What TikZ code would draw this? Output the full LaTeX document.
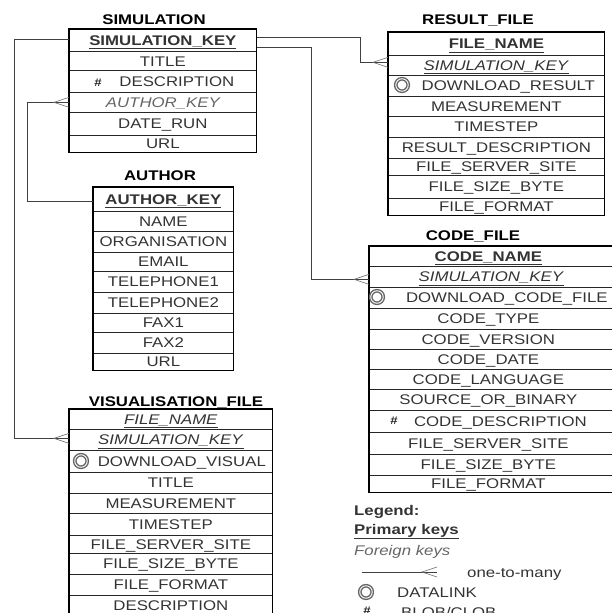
\documentclass[tikz,border=0pt]{standalone}
\usepackage{fontspec}
\setmainfont[FakeStretch=1.2]{Liberation Sans}
\tikzset{
  x=1bp,y=-1bp,
  rowbox/.style={draw=black!85,line width=0.7bp,inner sep=0pt,anchor=north west,text height=10bp,text depth=0bp,align=center,text=black!80},
  titlenode/.style={inner sep=0pt,text height=10bp,text depth=0bp,font=\fontsize{14bp}{16bp}\selectfont\bfseries},
  outerbox/.style={draw=black,line width=1.5bp},
  linkline/.style={draw=black!75,line width=0.7bp},
  crowline/.style={draw=black!60,line width=0.6bp},
  ringmark/.style={circle,draw=black!60,line width=1.4bp,minimum size=12.5bp,inner sep=0pt,double=white,double distance=0.9bp},
  legendtext/.style={inner sep=0pt,anchor=base west,text=black!80,font=\fontsize{14bp}{16bp}\selectfont},
  hashmark/.style={inner sep=0pt,font=\fontsize{11bp}{12bp}\selectfont\bfseries,text=black!85},
}
% name, x0, x1, y0, y1, text-shift (double of the offset), text
\newcommand{\tblrow}[7]{%
  \pgfmathsetmacro{\rw}{#3-#2}\pgfmathsetmacro{\rh}{#5-#4}%
  \node[rowbox,minimum width=\rw bp,minimum height=\rh bp,font=\fontsize{14bp}{16bp}\selectfont] (#1) at (#2,#4) {\hspace*{#6bp}#7};}
\newcommand{\pk}[1]{\underline{\textbf{#1}}}
\newcommand{\fku}[1]{\underline{\textit{#1}}}
\newcommand{\crowat}[1]{%
  \draw[crowline] (#1) ++(0,-5) -- ++(-15,5) -- ++(15,5);}
\begin{document}
\begin{tikzpicture}
\useasboundingbox (0,0) rectangle (612,613);
\clip (0,0) rectangle (612,613);
\coordinate (busA) at (14,0);
\coordinate (busB) at (27,0);
\coordinate (busC) at (360,0);
\coordinate (busD) at (311,0);
% SIMULATION
\node[titlenode] (tSim) at (154,20) {SIMULATION};
\tblrow{s1}{69}{256}{29}{51}{0}{\pk{SIMULATION\_KEY}}
\tblrow{s2}{69}{256}{51}{70.5}{0}{TITLE}
\tblrow{s3}{69}{256}{70.5}{92}{28}{DESCRIPTION}
\tblrow{s4}{69}{256}{92}{112}{0}{\textit{\textcolor{black!60}{AUTHOR\_KEY}}}
\tblrow{s5}{69}{256}{112}{135}{0}{DATE\_RUN}
\tblrow{s6}{69}{256}{135}{152}{0}{URL}
\draw[outerbox] (s1.north west) rectangle (s6.south east);
\node[hashmark] (hs) at (98,83) {\#};
% AUTHOR
\node[titlenode] (tAut) at (160,176) {AUTHOR};
\tblrow{a1}{93}{233}{187}{211}{0}{\pk{AUTHOR\_KEY}}
\tblrow{a2}{93}{233}{211}{231}{0}{NAME}
\tblrow{a3}{93}{233}{231}{252}{0}{ORGANISATION}
\tblrow{a4}{93}{233}{252}{271}{0}{EMAIL}
\tblrow{a5}{93}{233}{271}{292}{0}{TELEPHONE1}
\tblrow{a6}{93}{233}{292}{313}{0}{TELEPHONE2}
\tblrow{a7}{93}{233}{313}{332}{0}{FAX1}
\tblrow{a8}{93}{233}{332}{353}{0}{FAX2}
\tblrow{a9}{93}{233}{353}{370}{0}{URL}
\draw[outerbox] (a1.north west) rectangle (a9.south east);
% VISUALISATION_FILE
\node[titlenode] (tVis) at (176,401) {VISUALISATION\_FILE};
\tblrow{v1}{69}{272}{409}{429}{0}{\fku{FILE\_NAME}}
\tblrow{v2}{69}{272}{429}{450}{0}{\fku{SIMULATION\_KEY}}
\tblrow{v3}{69}{272}{450}{472}{22}{DOWNLOAD\_VISUAL}
\tblrow{v4}{69}{272}{472}{493}{0}{TITLE}
\tblrow{v5}{69}{272}{493}{513}{0}{MEASUREMENT}
\tblrow{v6}{69}{272}{513}{535}{0}{TIMESTEP}
\tblrow{v7}{69}{272}{535}{553}{0}{FILE\_SERVER\_SITE}
\tblrow{v8}{69}{272}{553}{574}{0}{FILE\_SIZE\_BYTE}
\tblrow{v9}{69}{272}{574}{595}{0}{FILE\_FORMAT}
\tblrow{v10}{69}{272}{595}{616}{0}{DESCRIPTION}
\draw[outerbox] (v1.north west) rectangle (v10.south east);
\node[ringmark] (rv) at (81,461) {};
% RESULT_FILE
\node[titlenode] (tRes) at (478,20) {RESULT\_FILE};
\tblrow{r1}{388}{604}{32}{55}{0}{\pk{FILE\_NAME}}
\tblrow{r2}{388}{604}{55}{75}{0}{\fku{SIMULATION\_KEY}}
\tblrow{r3}{388}{604}{75}{96}{24}{DOWNLOAD\_RESULT}
\tblrow{r4}{388}{604}{96}{116}{0}{MEASUREMENT}
\tblrow{r5}{388}{604}{116}{137}{0}{TIMESTEP}
\tblrow{r6}{388}{604}{137}{158}{0}{RESULT\_DESCRIPTION}
\tblrow{r7}{388}{604}{158}{175}{0}{FILE\_SERVER\_SITE}
\tblrow{r8}{388}{604}{175}{198}{0}{FILE\_SIZE\_BYTE}
\tblrow{r9}{388}{604}{198}{215}{0}{FILE\_FORMAT}
\draw[outerbox] (r1.north west) rectangle (r9.south east);
\node[ringmark] (rr) at (402,85) {};
% CODE_FILE (its right edge lies beyond the picture)
\node[titlenode] (tCod) at (473,235) {CODE\_FILE};
\tblrow{c1}{369}{620}{246}{266}{-13}{\pk{CODE\_NAME}}
\tblrow{c2}{369}{620}{266}{287}{-7}{\fku{SIMULATION\_KEY}}
\tblrow{c3}{369}{620}{287}{308}{24}{DOWNLOAD\_CODE\_FILE}
\tblrow{c4}{369}{620}{308}{329}{-13}{CODE\_TYPE}
\tblrow{c5}{369}{620}{329}{349}{-13}{CODE\_VERSION}
\tblrow{c6}{369}{620}{349}{369}{-13}{CODE\_DATE}
\tblrow{c7}{369}{620}{369}{389}{-13}{CODE\_LANGUAGE}
\tblrow{c8}{369}{620}{389}{410}{-13}{SOURCE\_OR\_BINARY}
\tblrow{c9}{369}{620}{410}{432}{11}{CODE\_DESCRIPTION}
\tblrow{c10}{369}{620}{432}{454}{-13}{FILE\_SERVER\_SITE}
\tblrow{c11}{369}{620}{454}{475}{-13}{FILE\_SIZE\_BYTE}
\tblrow{c12}{369}{620}{475}{492}{-13}{FILE\_FORMAT}
\draw[outerbox] (c1.north west) rectangle (c12.south east);
\node[ringmark] (rc) at (377,297) {};
\node[hashmark] (hc) at (394,421) {\#};
% connectors
\coordinate (vEnd) at ([yshift=1.5bp]v2.west);
\coordinate (rEnd) at ([yshift=3bp]r2.west);
\coordinate (cEnd) at ([yshift=-2.5bp]c2.west);
\draw[linkline] ([yshift=1bp]s1.west) -| (busA |- vEnd) -- (vEnd);
\crowat{vEnd}
\draw[linkline] ([yshift=3bp]s1.east) -| (busC |- rEnd) -- (rEnd);
\crowat{rEnd}
\draw[linkline] ([yshift=-7bp]s1.east) -| (busD |- cEnd) -- (cEnd);
\crowat{cEnd}
\draw[linkline] ([yshift=-2bp]a1.west) -| (busB |- s4.west) -- (s4.west);
\crowat{s4.west}
% legend
\node[legendtext,font=\fontsize{14bp}{16bp}\selectfont\bfseries] (lg1) at (354,515) {Legend:};
\node[legendtext,font=\fontsize{14bp}{16bp}\selectfont\bfseries] (lg2) at (354,534) {\underline{Primary keys}};
\node[legendtext] (lg3) at (354,555) {\textit{\textcolor{black!60}{Foreign keys}}};
\coordinate (lgA) at (362,572);
\coordinate (lgB) at (437,572);
\draw[linkline] (lgA) -- (lgB);
\crowat{lgB}
\node[legendtext] (lg4) at (467,577) {one-to-many};
\node[ringmark] (lgr) at (366,592) {};
\node[legendtext] (lg5) at (397,597) {DATALINK};
\node[hashmark] (lgh) at (367,611) {\#};
\node[legendtext] (lg6) at (401,617) {BLOB/CLOB};
\end{tikzpicture}
\end{document}
